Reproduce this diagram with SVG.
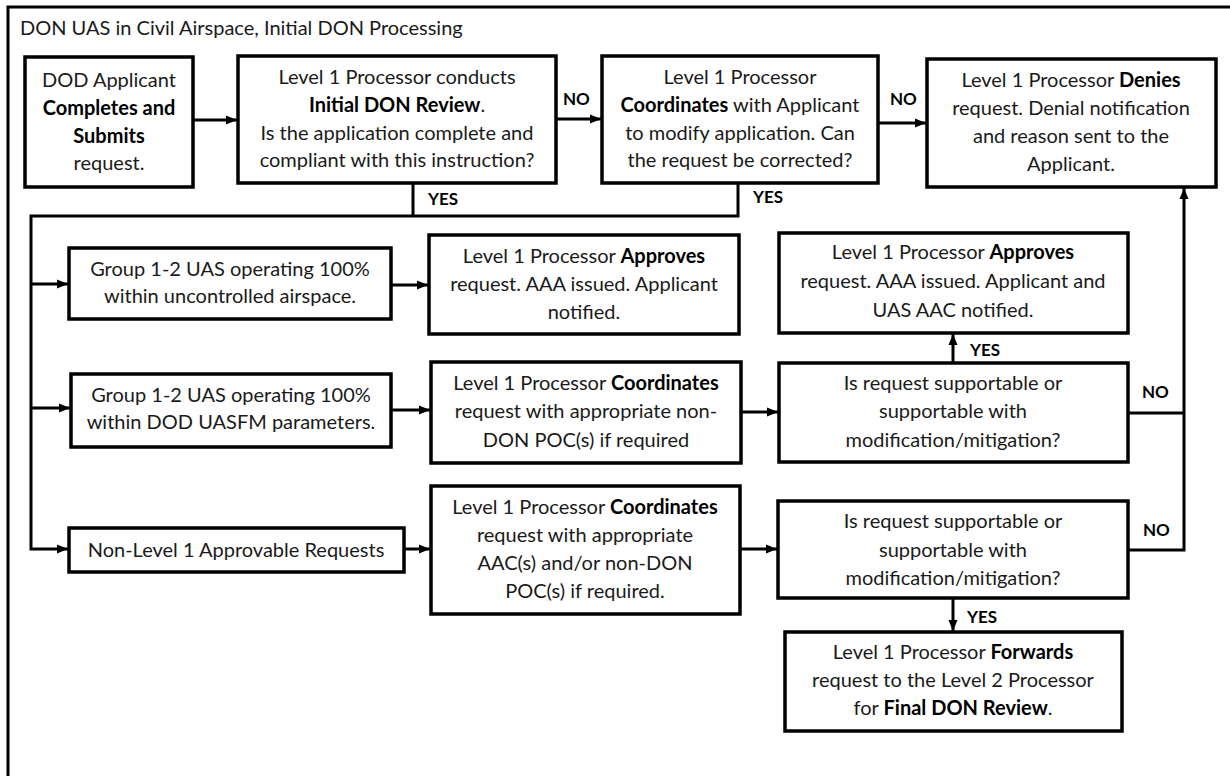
<svg xmlns="http://www.w3.org/2000/svg" width="1230" height="776" viewBox="0 0 1230 776">
<defs>
<style>
.bx{fill:#fff;stroke:#000;stroke-width:3.5}
.t{font-family:Lato,"Liberation Sans",sans-serif;font-size:20px;fill:#1a1a1a;text-anchor:middle}
.b{font-weight:bold;fill:#000}
.lbl{font-family:Lato,"Liberation Sans",sans-serif;font-size:17px;font-weight:bold;fill:#000}
.ttl{font-family:Lato,"Liberation Sans",sans-serif;font-size:20px;fill:#1a1a1a}
.c{fill:none;stroke:#000;stroke-width:3}
.ca{fill:none;stroke:#000;stroke-width:3;marker-end:url(#ah)}
</style>
<marker id="ah" markerUnits="userSpaceOnUse" markerWidth="12" markerHeight="12" viewBox="0 0 12 12" refX="11" refY="6" orient="auto">
<path d="M0,1.5 L11,6 L0,10.5 Z" fill="#000"/>
</marker>
</defs>
<rect width="1230" height="776" fill="#fff"/>
<path d="M8,776 V7 H1230" fill="none" stroke="#000" stroke-width="3"/>
<text class="ttl" x="20" y="35">DON UAS in Civil Airspace, Initial DON Processing</text>

<g id="connectors">
<path class="ca" d="M193,120 H237"/>
<path class="ca" d="M556,119 H601"/>
<path class="ca" d="M878,123 H926"/>
<path class="c" d="M413,183 V216"/>
<path class="ca" d="M738,183 V216 H31 V549 H68"/>
<path class="ca" d="M31,284 H68"/>
<path class="ca" d="M31,408 H70"/>
<path class="ca" d="M391,285 H428"/>
<path class="ca" d="M391,410 H430"/>
<path class="ca" d="M741,412 H778"/>
<path class="ca" d="M404,549 H430"/>
<path class="ca" d="M740,549 H777"/>
<path class="ca" d="M953,363 V334"/>
<path class="c" d="M1128,413 H1184"/>
<path class="ca" d="M1128,550 H1184 V188"/>
<path class="ca" d="M953,598 V631"/>
<text class="lbl" x="563" y="105">NO</text>
<text class="lbl" x="890" y="105">NO</text>
<text class="lbl" x="428" y="205">YES</text>
<text class="lbl" x="753" y="203">YES</text>
<text class="lbl" x="970" y="356">YES</text>
<text class="lbl" x="1142" y="398">NO</text>
<text class="lbl" x="1143" y="536">NO</text>
<text class="lbl" x="967" y="623">YES</text>
</g>

<g id="n1">
<rect class="bx" x="25" y="57" width="168" height="130"/>
<text class="t" x="109" y="87">DOD Applicant</text>
<text class="t b" x="109" y="115">Completes and</text>
<text class="t b" x="109" y="143">Submits</text>
<text class="t" x="109" y="170">request.</text>
</g>
<g id="n2">
<rect class="bx" x="238" y="56" width="318" height="127"/>
<text class="t" x="397" y="84">Level 1 Processor conducts</text>
<text class="t" x="397" y="112"><tspan class="b">Initial DON Review</tspan>.</text>
<text class="t" x="397" y="140">Is the application complete and</text>
<text class="t" x="397" y="167">compliant with this instruction?</text>
</g>
<g id="n3">
<rect class="bx" x="602" y="56" width="276" height="127"/>
<text class="t" x="740" y="84">Level 1 Processor</text>
<text class="t" x="740" y="112"><tspan class="b">Coordinates</tspan> with Applicant</text>
<text class="t" x="740" y="140">to modify application. Can</text>
<text class="t" x="740" y="167">the request be corrected?</text>
</g>
<g id="n4">
<rect class="bx" x="927" y="59" width="289" height="128"/>
<text class="t" x="1071" y="87">Level 1 Processor <tspan class="b">Denies</tspan></text>
<text class="t" x="1071" y="115">request. Denial notification</text>
<text class="t" x="1071" y="143">and reason sent to the</text>
<text class="t" x="1071" y="171">Applicant.</text>
</g>
<g id="n5">
<rect class="bx" x="69" y="248" width="322" height="71"/>
<text class="t" x="230" y="276">Group 1-2 UAS operating 100%</text>
<text class="t" x="230" y="303">within uncontrolled airspace.</text>
</g>
<g id="n6">
<rect class="bx" x="71" y="374" width="320" height="73"/>
<text class="t" x="231" y="402">Group 1-2 UAS operating 100%</text>
<text class="t" x="231" y="429">within DOD UASFM parameters.</text>
</g>
<g id="n7">
<rect class="bx" x="69" y="528" width="335" height="44"/>
<text class="t" x="236" y="557">Non-Level 1 Approvable Requests</text>
</g>
<g id="n8">
<rect class="bx" x="429" y="235" width="310" height="99"/>
<text class="t" x="584" y="263">Level 1 Processor <tspan class="b">Approves</tspan></text>
<text class="t" x="584" y="291">request. AAA issued. Applicant</text>
<text class="t" x="584" y="319">notified.</text>
</g>
<g id="n9">
<rect class="bx" x="431" y="362" width="310" height="101"/>
<text class="t" x="586" y="390">Level 1 Processor <tspan class="b">Coordinates</tspan></text>
<text class="t" x="586" y="418">request with appropriate non-</text>
<text class="t" x="586" y="447">DON POC(s) if required</text>
</g>
<g id="n10">
<rect class="bx" x="431" y="486" width="309" height="128"/>
<text class="t" x="585" y="514">Level 1 Processor <tspan class="b">Coordinates</tspan></text>
<text class="t" x="585" y="542">request with appropriate</text>
<text class="t" x="585" y="570">AAC(s) and/or non-DON</text>
<text class="t" x="585" y="598">POC(s) if required.</text>
</g>
<g id="n11">
<rect class="bx" x="779" y="233" width="349" height="100"/>
<text class="t" x="953" y="259">Level 1 Processor <tspan class="b">Approves</tspan></text>
<text class="t" x="953" y="288">request. AAA issued. Applicant and</text>
<text class="t" x="953" y="317">UAS AAC notified.</text>
</g>
<g id="n12">
<rect class="bx" x="779" y="363" width="349" height="99"/>
<text class="t" x="953" y="390">Is request supportable or</text>
<text class="t" x="953" y="418">supportable with</text>
<text class="t" x="953" y="447">modification/mitigation?</text>
</g>
<g id="n13">
<rect class="bx" x="778" y="501" width="350" height="97"/>
<text class="t" x="953" y="528">Is request supportable or</text>
<text class="t" x="953" y="557">supportable with</text>
<text class="t" x="953" y="585">modification/mitigation?</text>
</g>
<g id="n14">
<rect class="bx" x="785" y="632" width="337" height="99"/>
<text class="t" x="953" y="659">Level 1 Processor <tspan class="b">Forwards</tspan></text>
<text class="t" x="953" y="687">request to the Level 2 Processor</text>
<text class="t" x="953" y="715">for <tspan class="b">Final DON Review</tspan>.</text>
</g>
</svg>
